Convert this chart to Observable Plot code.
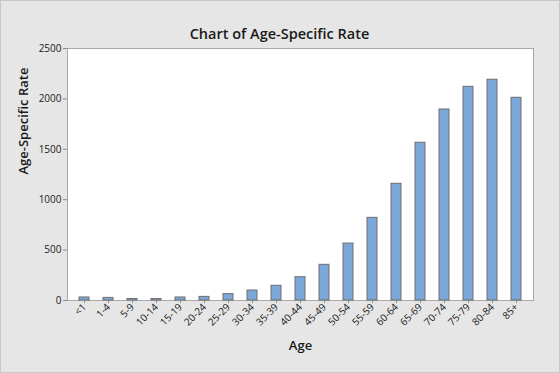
<!DOCTYPE html>
<html>
<head>
<meta charset="utf-8">
<script src="https://cdn.jsdelivr.net/npm/d3@7"></script>
<script src="https://cdn.jsdelivr.net/npm/@observablehq/plot@0.6"></script>
<style>
  html, body { margin: 0; padding: 0; background: #e6e6e6; }
  #chart { width: 560px; height: 373px; box-sizing: border-box; border: 1px solid #c8c8c8; overflow: hidden; }
  svg { display: block; }
</style>
</head>
<body>
<div id="chart"></div>
<script>
const ages = ["<1","1-4","5-9","10-14","15-19","20-24","25-29","30-34","35-39","40-44","45-49","50-54","55-59","60-64","65-69","70-74","75-79","80-84","85+"];
const rates = [30, 26, 15, 14, 30, 36, 63, 99, 146, 231, 354, 565, 820, 1158, 1565, 1895, 2120, 2190, 2011];
const yTicks = [0, 500, 1000, 1500, 2000, 2500];
const chartTitle = "Chart of Age-Specific Rate";
const xTitle = "Age";
const yTitle = "Age-Specific Rate";

const data = ages.map((a, i) => ({age: a, rate: rates[i]}));

const plot = Plot.plot({
  width: 558,
  height: 371,
  marginLeft: 66,
  marginRight: 26,
  marginTop: 47,
  marginBottom: 72,
  style: {background: "#e6e6e6", fontFamily: "'Open Sans', 'Noto Sans', sans-serif", color: "#1a1a1a"},
  x: {domain: ages, paddingInner: 0.57, paddingOuter: 0.3, label: null},
  y: {domain: [0, 2500], label: null},
  marks: [
    Plot.frame({fill: "white", stroke: "#a8a8a8"}),
    Plot.barY(data, {x: "age", y: "rate", fill: "#7ba7db", stroke: "#6e6e6e", strokeWidth: 1}),
    Plot.axisY({ticks: yTicks, tickFormat: d => String(d), tickSize: 4, stroke: "#8a8a8a", fontSize: 10, tickPadding: 2, label: null}),
    Plot.axisX({tickSize: 3, stroke: "#8a8a8a", tickRotate: -45, fontSize: 10, tickPadding: 2, label: null}),
    Plot.text([yTitle], {frameAnchor: "left", dx: -44, rotate: -90, fontSize: 13, fontWeight: 600, fill: "#1a1a1a"}),
    Plot.text([xTitle], {frameAnchor: "bottom", dy: 49, fontSize: 13, fontWeight: 600, fill: "#1a1a1a"}),
    Plot.text([chartTitle], {frameAnchor: "top", dy: -20, dx: -21, fontSize: 14.5, fontWeight: 600, fill: "#1a1a1a"})
  ]
});
document.getElementById("chart").appendChild(plot);
</script>
</body>
</html>
